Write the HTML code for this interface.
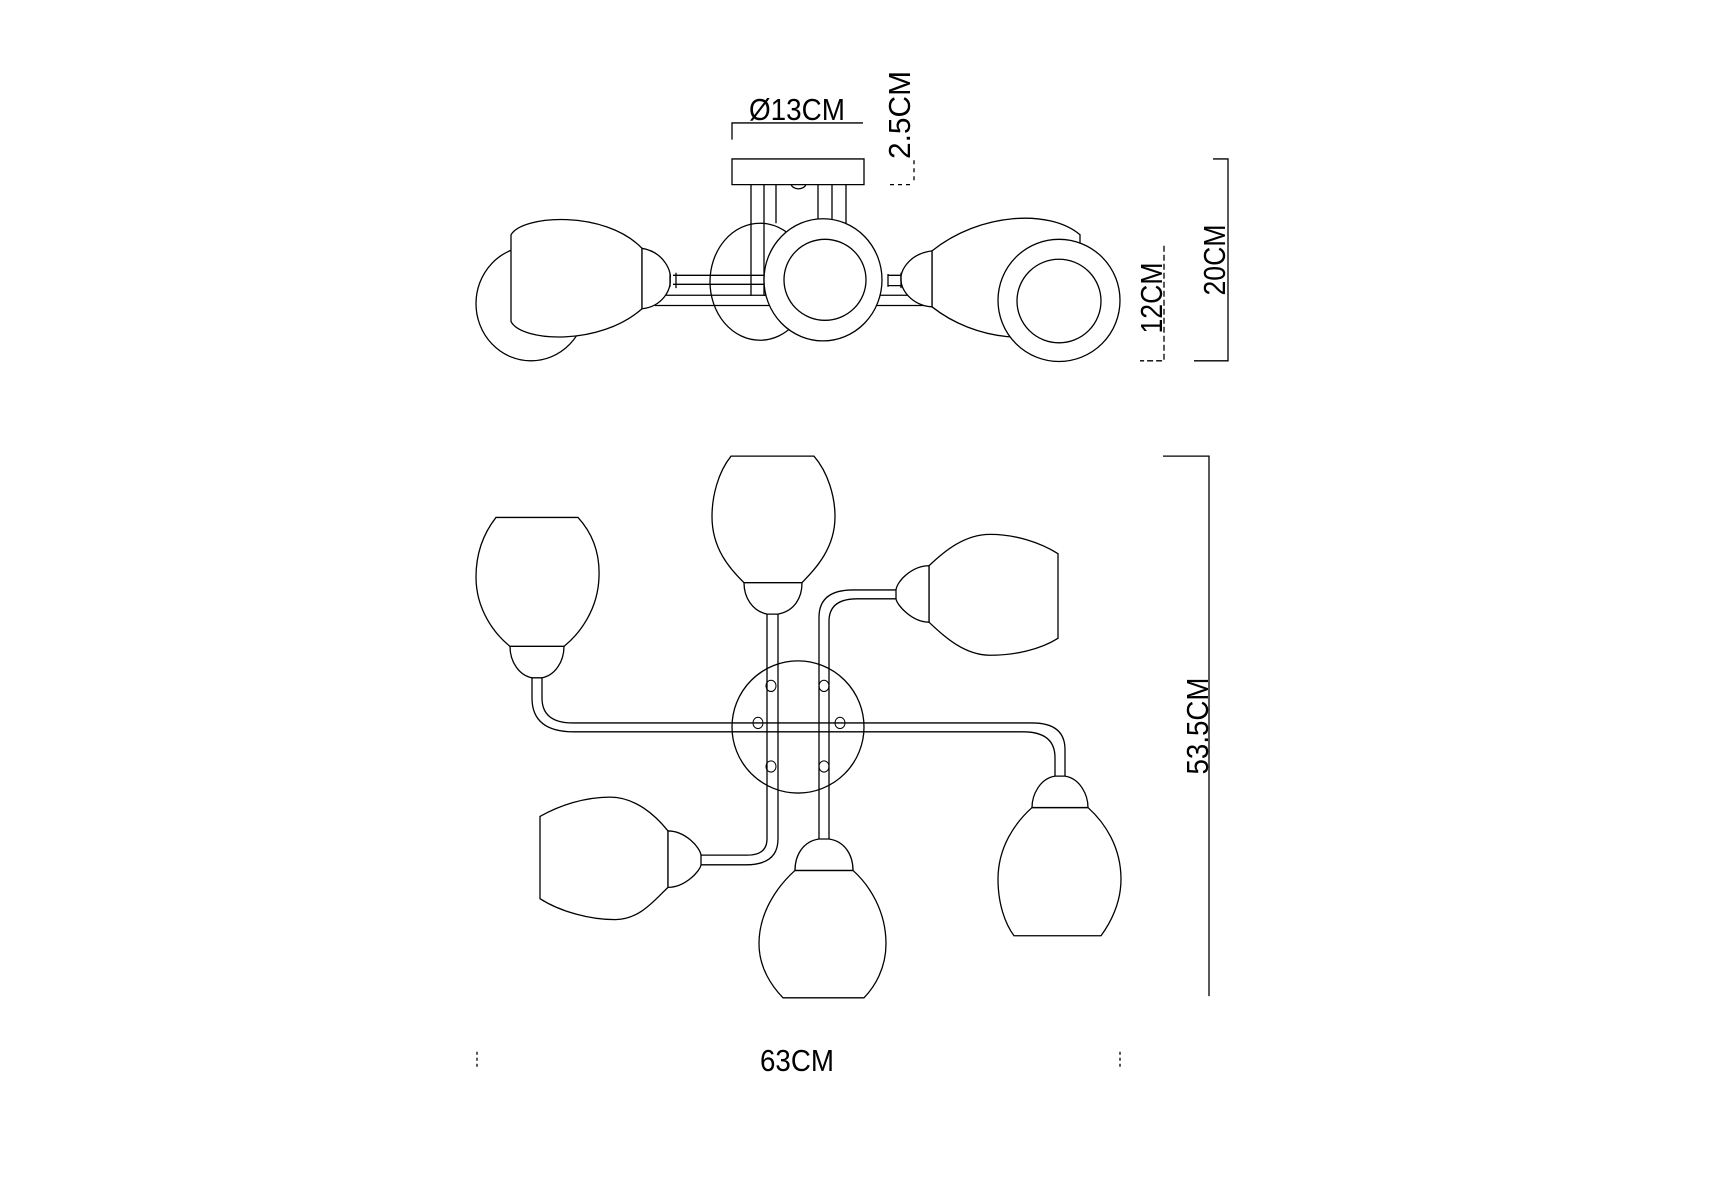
<!DOCTYPE html>
<html><head><meta charset="utf-8"><style>
html,body{margin:0;padding:0;background:#fff;}
svg{display:block;}
text{font-family:"Liberation Sans",Arial,sans-serif;font-size:31px;fill:#000;}
path,ellipse,rect{vector-effect:non-scaling-stroke;}
</style></head><body>
<svg width="1715" height="1200" viewBox="0 0 1715 1200" xmlns="http://www.w3.org/2000/svg">
<g fill="none" stroke="#000" stroke-width="1.3" transform="matrix(1,0,0,0.643,0,19.4)">
<path d="M732,187 L732,161 L863,161"/>
<path d="M890,257 L914,257 M914,219 L914,255" stroke-dasharray="4,4"/>
<path d="M1213,217 L1228,217 L1228,531 L1194,531"/>
<path d="M1164,352 L1164,531 L1140,531" stroke-dasharray="6,3"/>
<path d="M751,257 L751,430 M764,257 L764,430 M776,257 L776,317 M818,257 L818,317 M832,257 L832,317 M846,257 L846,317"/>
<path d="M791,257 A8,10 0 0,0 806,257"/>
<ellipse cx="531" cy="442" rx="55" ry="89" fill="#fff"/>
<ellipse cx="760" cy="408" rx="50" ry="91" fill="#fff"/>
<path d="M751,317 L751,430 M764,317 L764,430"/>
<path d="M673,398 L765,398 M673,412 L765,412 M655,429 L998,429 M655,445 L998,445"/>
<path d="M932,360 C980,300 1050,295 1080,335 L1080,470 C1040,510 975,500 932,447 Z" fill="#fff"/>
<path d="M932,360 C907,365 900,395 901,403 C900,420 912,445 932,447 Z" fill="#fff"/>
<path d="M888,398 L901,398 M888,414 L901,414 M888,396 L888,416 M901,394 L901,418"/>
<path d="M511,335 L511,470 C522,502 600,508 642,450 L642,356 C605,296 522,304 511,335 Z" fill="#fff"/>
<path d="M642,356 C665,362 672,395 670,403 C672,420 662,447 642,450 Z" fill="#fff"/>
<path d="M670,396 L670,416 M676,394 L676,418"/>
<ellipse cx="823" cy="405" rx="59" ry="95" fill="#fff"/>
<ellipse cx="825" cy="405" rx="41" ry="63"/>
<ellipse cx="1059" cy="437" rx="61" ry="95" fill="#fff"/>
<ellipse cx="1059" cy="438" rx="42" ry="65"/>
<rect x="732" y="217" width="132" height="40" fill="#fff"/>
</g>

<g fill="none" stroke="#000" stroke-width="1.3" transform="matrix(1,0,0,0.806,0,85.4)">
<ellipse cx="798" cy="796" rx="66" ry="82"/>
<g stroke-width="1">
<ellipse cx="771" cy="745" rx="5" ry="7"/><ellipse cx="824" cy="745" rx="5" ry="7"/>
<ellipse cx="758" cy="791" rx="5" ry="7"/><ellipse cx="840" cy="791" rx="5" ry="7"/>
<ellipse cx="771" cy="845" rx="5" ry="7"/><ellipse cx="824" cy="845" rx="5" ry="7"/>
</g>
<path d="M532,735 L532,760 Q532,802 574,802 L1023,802 Q1055,802 1055,834 L1055,857"/>
<path d="M542,735 L542,760 Q542,791 573,791 L1032,791 Q1065,791 1065,824 L1065,857"/>
<path d="M778,656 L778,935 Q778,967 746,967 L701,967 M767,656 L767,935 Q767,955 747,955 L701,955"/>
<path d="M819,935 L819,660 Q819,626 853,626 L896,626 M829,935 L829,665 Q829,637 857,637 L896,637"/>
<path d="M496,536 L578,536 C592,555 600,580 599,610 C598,650 580,680 564,696 L510,696 C494,680 476,650 476,610 C476,580 484,555 496,536 Z" fill="#fff"/>
<path d="M510,696 L564,696 C564,715 555,732 542,735 L532,735 C519,732 510,715 510,696 Z" fill="#fff"/>
<path d="M731,460 L814,460 C828,480 835,510 835,535 C835,575 815,600 802,617 L744,617 C730,600 712,575 712,535 C712,510 718,480 731,460 Z" fill="#fff"/>
<path d="M744,617 L802,617 C802,635 795,652 778,656 L767,656 C752,652 744,635 744,617 Z" fill="#fff"/>
<path d="M1032,896 L1088,896 C1105,915 1121,945 1121,985 C1121,1015 1110,1040 1101,1055 L1014,1055 C1005,1040 998,1015 998,985 C998,945 1015,915 1032,896 Z" fill="#fff"/>
<path d="M1032,896 L1088,896 C1088,880 1080,860 1065,857 L1055,857 C1040,860 1032,880 1032,896 Z" fill="#fff"/>
<path d="M795,974 L853,974 C870,993 886,1025 886,1065 C886,1095 875,1118 864,1132 L783,1132 C772,1118 759,1095 759,1065 C759,1025 778,993 795,974 Z" fill="#fff"/>
<path d="M795,974 L853,974 C853,955 845,938 829,935 L819,935 C803,938 795,955 795,974 Z" fill="#fff"/>
<path d="M540,907 L540,1009 C560,1025 590,1035 615,1035 C640,1035 655,1010 668,995 L668,925 C655,905 635,883 610,883 C585,883 560,893 540,907 Z" fill="#fff"/>
<path d="M668,925 L668,995 C685,995 700,975 701,967 L701,955 C700,945 685,925 668,925 Z" fill="#fff"/>
<path d="M1058,581 L1058,686 C1040,700 1015,707 990,707 C965,707 945,685 929,666 L929,596 C945,577 965,557 990,557 C1015,557 1040,567 1058,581 Z" fill="#fff"/>
<path d="M929,596 L929,666 C912,666 897,645 896,637 L896,626 C897,615 912,596 929,596 Z" fill="#fff"/>
<path d="M1163,460 L1209,460 L1209,1130"/>
<path d="M477,1199 L477,1219 M1120,1199 L1120,1219" stroke-dasharray="3,3"/>
</g>
<g>
<text x="797" y="120" text-anchor="middle" textLength="96" lengthAdjust="spacingAndGlyphs">Ø13CM</text>
<text transform="translate(910,115) rotate(-90)" text-anchor="middle" textLength="88" lengthAdjust="spacingAndGlyphs">2.5CM</text>
<text transform="translate(1225,260) rotate(-90)" text-anchor="middle" textLength="71" lengthAdjust="spacingAndGlyphs">20CM</text>
<text transform="translate(1162,298) rotate(-90)" text-anchor="middle" textLength="71" lengthAdjust="spacingAndGlyphs">12CM</text>
<text transform="translate(1208,726) rotate(-90)" text-anchor="middle" textLength="97" lengthAdjust="spacingAndGlyphs">53.5CM</text>
<text x="797" y="1071" text-anchor="middle" textLength="74" lengthAdjust="spacingAndGlyphs">63CM</text>
</g>
</svg>
</body></html>
